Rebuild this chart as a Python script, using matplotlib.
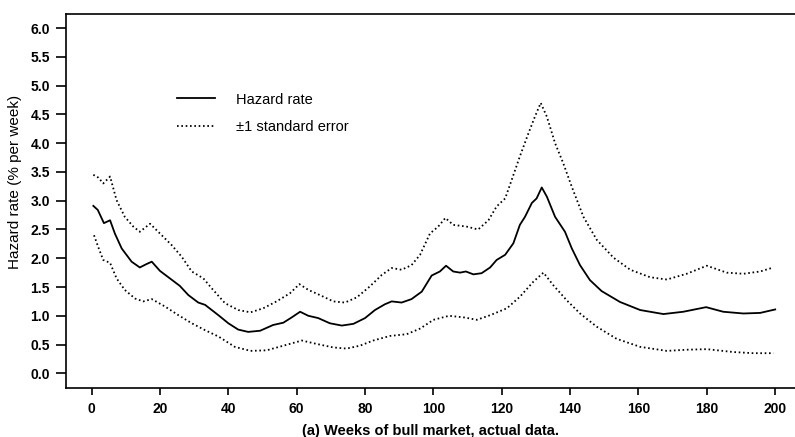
import numpy as np
import matplotlib.pyplot as plt

plt.rcParams['font.family'] = ['Liberation Sans', 'DejaVu Sans']

# Hazard rate (solid line)
weeks_rate = [0.5, 1.8, 3.6, 5.4, 6.8, 8.8, 11.7, 14.1, 16.1, 17.6,
              20, 22.9, 25.8, 28.3, 31.2, 33.2, 37.1, 40, 42.9, 45.8,
              49.3, 53.1, 56.1, 58.5, 61, 63.4, 66.3, 69.7, 73.2, 76.6,
              80, 82.9, 85.8, 87.8, 90.7, 93.6, 96.6, 99.5, 101.9, 103.7,
              105.8, 107.8, 109.5, 111.7, 114.1, 116.6, 118.5, 121, 123.4, 125.3,
              126.8, 128.8, 130.2, 131.7, 133.2, 135.6, 138.5, 140.5, 142.9, 145.8,
              149.2, 154.6, 160.5, 167.3, 173.1, 179.8, 184.8, 190.7, 195.6, 200]
rate = [2.91, 2.84, 2.61, 2.66, 2.43, 2.17, 1.94, 1.84, 1.90, 1.94,
        1.78, 1.65, 1.52, 1.36, 1.23, 1.19, 1.01, 0.87, 0.76, 0.72,
        0.74, 0.84, 0.88, 0.97, 1.07, 1.00, 0.96, 0.87, 0.83, 0.86,
        0.96, 1.10, 1.20, 1.25, 1.23, 1.29, 1.42, 1.70, 1.77, 1.87,
        1.77, 1.75, 1.77, 1.72, 1.74, 1.84, 1.97, 2.06, 2.26, 2.58,
        2.72, 2.96, 3.04, 3.23, 3.07, 2.72, 2.46, 2.17, 1.88, 1.62,
        1.43, 1.24, 1.10, 1.03, 1.07, 1.15, 1.07, 1.04, 1.05, 1.11]

# +1 standard error
weeks_upper = [0.5, 2, 3.4, 5.4, 7.3, 9.7, 12.2, 14.1, 17.1, 20.5,
               23.4, 26.3, 29.3, 32.7, 35.1, 39, 42.9, 46.5, 50.2, 54.1,
               58, 60.8, 63.4, 66.8, 70.7, 74.1, 77.6, 81.4, 84.9, 87.8,
               90.7, 93.6, 96.1, 99, 101.4, 103.5, 105.8, 109.7, 113.1, 116.1,
               118.5, 121, 122.9, 125.3, 127.8, 129.7, 131.4, 133.2, 135.6, 138,
               140.5, 143.9, 147.8, 152.7, 157.6, 163.4, 168.3, 174.1, 180, 185.8,
               190.7, 195.6, 199.5]
upper = [3.45, 3.40, 3.30, 3.42, 3.01, 2.72, 2.55, 2.46, 2.60, 2.40,
         2.23, 2.03, 1.77, 1.65, 1.48, 1.22, 1.10, 1.06, 1.13, 1.25,
         1.39, 1.55, 1.45, 1.36, 1.25, 1.23, 1.32, 1.51, 1.71, 1.83,
         1.80, 1.88, 2.06, 2.43, 2.55, 2.70, 2.58, 2.55, 2.50, 2.66,
         2.90, 3.04, 3.36, 3.77, 4.17, 4.46, 4.70, 4.46, 4.00, 3.65,
         3.24, 2.72, 2.32, 2.01, 1.80, 1.67, 1.63, 1.73, 1.87, 1.75,
         1.73, 1.77, 1.84]

# -1 standard error
weeks_lower = [0.7, 1.9, 3.4, 5.4, 7.3, 9.7, 12.7, 15.1, 17.6, 21.5,
               25.4, 29.3, 33.2, 37.1, 41.9, 46.5, 51.2, 56.1, 61.5, 65.9,
               70.7, 74.6, 78.5, 82.4, 87.3, 92.2, 96.2, 100, 104.6, 109.2,
               112.7, 116.6, 121.5, 125.3, 129.2, 132.2, 135.1, 139, 142.9, 147.8,
               153.6, 160.5, 168.3, 174.1, 180, 187.8, 193.6, 199.5]
lower = [2.40, 2.20, 1.97, 1.92, 1.65, 1.45, 1.30, 1.25, 1.29, 1.16,
         1.01, 0.87, 0.75, 0.64, 0.46, 0.39, 0.40, 0.48, 0.57, 0.51,
         0.45, 0.43, 0.48, 0.57, 0.65, 0.68, 0.78, 0.93, 1.00, 0.97,
         0.93, 1.01, 1.13, 1.33, 1.59, 1.75, 1.53, 1.27, 1.04, 0.81,
         0.60, 0.46, 0.39, 0.41, 0.42, 0.37, 0.35, 0.35]

x_ticks = np.arange(0, 201, 20)
y_ticks = np.arange(0, 6.01, 0.5)

fig = plt.figure(figsize=(7.95, 4.37), dpi=100)
ax = fig.add_axes([0.083, 0.112, 0.917, 0.856])

ax.plot(weeks_rate, rate, color='black', linewidth=1.3, label='Hazard rate')
ax.plot(weeks_upper, upper, color='black', linewidth=1.3, linestyle=(0, (0.9, 1.5)),
        label='\u00b11 standard error')
ax.plot(weeks_lower, lower, color='black', linewidth=1.3, linestyle=(0, (0.9, 1.5)))

ax.set_xlim(-7.5, 205.8)
ax.set_ylim(-0.256, 6.245)
ax.set_xticks(x_ticks)
ax.set_yticks(y_ticks)
ax.set_yticklabels(['%.1f' % v for v in y_ticks])
ax.tick_params(axis='both', direction='out', labelsize=10, width=1.2)
ax.tick_params(axis='y', length=7.5, pad=4)
ax.tick_params(axis='x', length=5, pad=5)
for lab in ax.get_xticklabels() + ax.get_yticklabels():
    lab.set_fontweight('bold')

ax.spines['right'].set_visible(False)
for s in ['left', 'bottom', 'top']:
    ax.spines[s].set_linewidth(1.2)

ax.set_xlabel('(a) Weeks of bull market, actual data.', fontsize=10.5, fontweight='bold', labelpad=6)
ax.set_ylabel('Hazard rate (% per week)', fontsize=11)
ax.yaxis.set_label_coords(-0.060, 0.55)

ax.legend(loc='upper left', bbox_to_anchor=(0.152, 0.79), frameon=False, fontsize=10.5,
          handlelength=2.6, handletextpad=1.45, labelspacing=0.9,
          borderpad=0, borderaxespad=0)

plt.savefig('out.png', dpi=100)
